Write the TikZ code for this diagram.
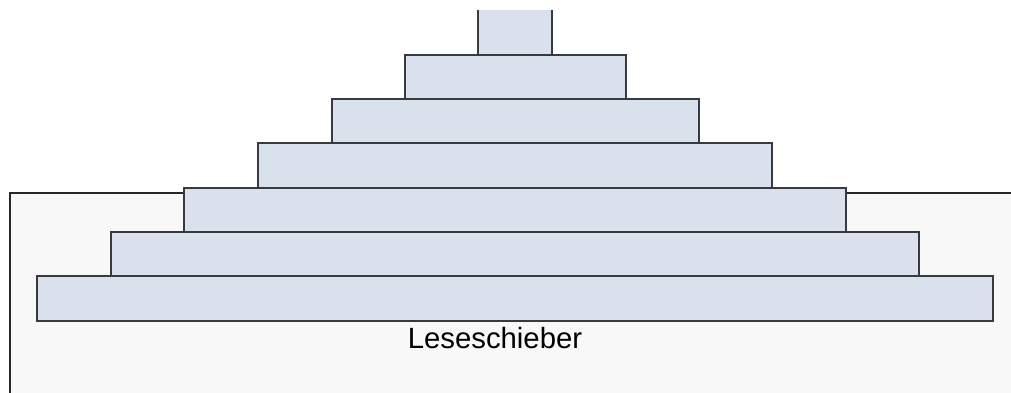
\documentclass[tikz,border=0pt]{standalone}
\usepackage{fontspec}
\setmainfont{Liberation Sans}
\definecolor{barfill}{HTML}{D8E1EC}
\definecolor{barline}{HTML}{383A40}
\definecolor{basefill}{HTML}{F8F8F8}
\begin{document}
\begin{tikzpicture}[x=1pt,y=-1pt,
  bar/.style={draw=barline, fill=barfill, line width=1.9pt, inner sep=0pt, anchor=north west},
  base/.style={draw=black!85, fill=basefill, line width=1.9pt, inner sep=0pt, anchor=north west}]
\useasboundingbox (0,0) rectangle (1011,392);
\clip (0,0) rectangle (1011,392);
\node[base, minimum width=1030pt, minimum height=230pt] (basis) at (9,192) {};
\begin{scope}
\clip (0,10.5) rectangle (1011,60);
\node[bar, minimum width=74pt,  minimum height=64pt] (b1) at (477,-10) {};
\end{scope}
\node[bar, minimum width=221pt, minimum height=44pt] (b2) at (404,54) {};
\node[bar, minimum width=367pt, minimum height=44pt] (b3) at (331,98) {};
\node[bar, minimum width=514pt, minimum height=45pt] (b4) at (257,142) {};
\node[bar, minimum width=662pt, minimum height=44pt] (b5) at (183,187) {};
\node[bar, minimum width=808pt, minimum height=44pt] (b6) at (110,231) {};
\node[bar, minimum width=956pt, minimum height=45pt] (b7) at (36,275) {};
\node[font=\fontsize{29.3pt}{34pt}\selectfont, anchor=base, inner sep=0pt] (label) at (495,348) {Leseschieber};
\end{tikzpicture}
\end{document}
